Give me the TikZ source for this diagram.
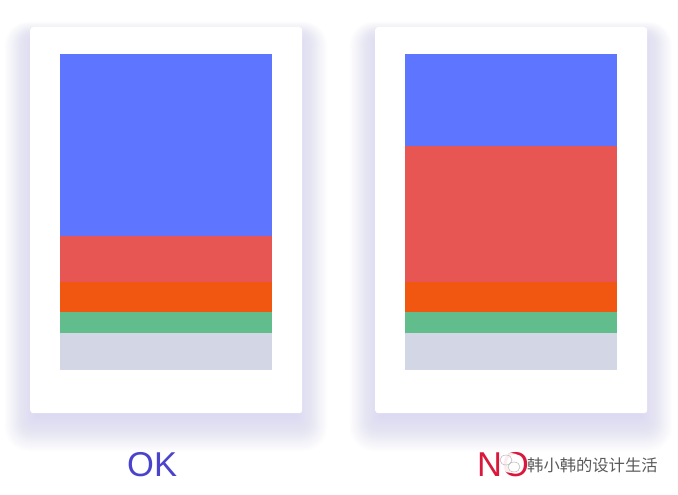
\documentclass[tikz,border=0pt]{standalone}
\usepackage{fontspec}
\setmainfont{Liberation Sans}
\newfontfamily\cjk{Noto Sans CJK SC}
\definecolor{cblue}{HTML}{5E75FF}
\definecolor{cred}{HTML}{E85654}
\definecolor{corange}{HTML}{F25712}
\definecolor{cgreen}{HTML}{61BE8C}
\definecolor{cgray}{HTML}{D3D6E4}
\definecolor{okcol}{HTML}{4B43CC}
\definecolor{nocol}{HTML}{D9183B}
\definecolor{shadowcol}{HTML}{C4C1F2}
\definecolor{wmcol}{HTML}{5A5A5A}
\tikzset{
  card/.style={fill=white, draw=none, rounded corners=3pt},
  label/.style={font=\fontsize{34.5}{34}\selectfont, inner sep=0pt, anchor=base west},
}
\begin{document}
\begin{tikzpicture}[x=1pt,y=-1pt]
\useasboundingbox (0,0) rectangle (678,495);
\fill[white] (0,0) rectangle (678,495);
% shadows
\foreach \cx in {30,375}{
  \foreach \i in {1,...,24}{
    \fill[shadowcol, opacity=0.028, rounded corners=\i pt]
      (\cx-\i*1.3+6,27-\i*0.8+14) rectangle (\cx+272+\i*1.3-6,413+\i*1.5+2);
  }
}
% left card
\node[card, minimum width=272pt, minimum height=386pt, anchor=north west, inner sep=0pt] (cardL) at (30,27) {};
\fill[cblue]   (60,54)  rectangle (272,236);
\fill[cred]    (60,236) rectangle (272,282);
\fill[corange] (60,282) rectangle (272,312);
\fill[cgreen]  (60,312) rectangle (272,333);
\fill[cgray]   (60,333) rectangle (272,370);
% right card
\node[card, minimum width=272pt, minimum height=386pt, anchor=north west, inner sep=0pt] (cardR) at (375,27) {};
\fill[cblue]   (405,54)  rectangle (617,146);
\fill[cred]    (405,146) rectangle (617,282);
\fill[corange] (405,282) rectangle (617,312);
\fill[cgreen]  (405,312) rectangle (617,333);
\fill[cgray]   (405,333) rectangle (617,370);
% labels
\node[label, text=okcol] (ok) at (127,476) {OK};
\node[label, text=nocol] (no) at (477,476) {NO};
% watermark icon
\fill[white, opacity=0.92] (511,463) ellipse (11pt and 10pt);
\draw[gray!55, line width=0.5pt] (506,460) ellipse (6pt and 5pt);
\draw[gray!55, line width=0.5pt] (514,467) ellipse (6pt and 5pt);
\node[font=\cjk\fontsize{16.3}{17}\selectfont, text=wmcol, anchor=west, inner sep=0pt] (wm) at (527,465) {韩小韩的设计生活};
\end{tikzpicture}
\end{document}
